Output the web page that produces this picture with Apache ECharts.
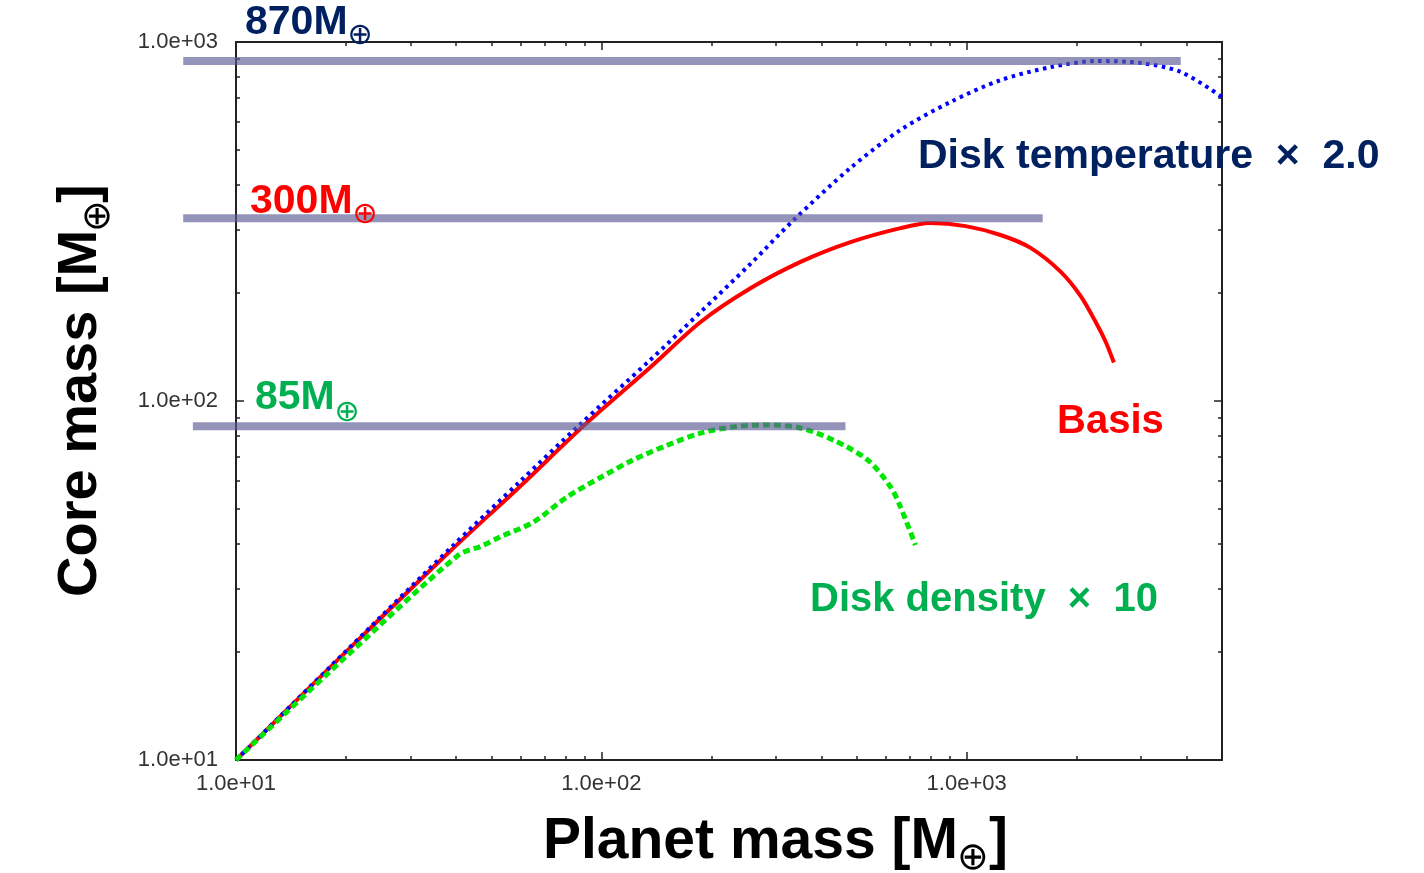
<!DOCTYPE html>
<html><head><meta charset="utf-8">
<script src="https://cdn.jsdelivr.net/npm/echarts@6/dist/echarts.min.js"></script>
<style>html,body{margin:0;padding:0;background:#fff}#c{width:1424px;height:873px}</style>
</head><body><div id="c"></div>
<script>
// ---------- data ----------
const xMajorTicks = [10, 100, 1000];
const xTickLabels = ['1.0e+01', '1.0e+02', '1.0e+03'];
const xMinorTicks = [20,30,40,50,60,70,80,90,200,300,400,500,600,700,800,900,2000,3000,4000,5000];
const yMajorTicks = [10, 100, 1000];
const yTickLabels = ['1.0e+01', '1.0e+02', '1.0e+03'];
const yMinorTicks = [20,30,40,50,60,70,80,90,200,300,400,500,600,700,800,900];

const basisMass = [10, 20, 38.6, 60, 89.3, 136, 187, 256, 351, 481, 659, 796, 993, 1238, 1496, 1810, 2052, 2255, 2403, 2529];
const basisCore = [10, 20, 38.2, 57.9, 85.2, 124, 166, 206, 244, 277, 303, 313, 307, 290, 267, 229, 196, 166, 146, 128];

const tempMass = [10, 20, 38.6, 60, 86.5, 136, 187, 256, 336, 481, 659, 904, 1238, 1698, 2255, 2999, 3855, 5000];
const tempCore = [10, 20.1, 38.9, 59.8, 85.2, 130, 177, 241, 319, 446, 569, 681, 783, 851, 885, 874, 825, 703];

const densMass = [10, 20, 40.6, 47.2, 52.8, 65.2, 80.7, 100, 122, 152, 187, 230, 285, 351, 432, 536, 620, 659, 724];
const densCore = [10, 19.4, 37.2, 39.5, 41.8, 46.0, 54.1, 61.4, 68.5, 75.4, 81.4, 84.7, 85.8, 84.1, 77.8, 68.5, 57.5, 50.7, 39.7];

const levelValue = [885, 323, 85];
const levelStart = [7.17, 7.17, 7.62];
const levelEnd = [3855, 1615, 466];
const levelLabel = ['870M', '300M', '85M'];

// ---------- layout ----------
const FONT = "'Liberation Sans', Arial, Helvetica, sans-serif";
const SYM = "'DejaVu Sans', sans-serif";
const X_MIN = 10, X_MAX = 5000, Y_MIN = 10, Y_MAX = 1000;
const G = {left: 236, top: 42, width: 986, height: 718};
const OVERHANG = 66;
const decadePx = G.width / Math.log10(X_MAX / X_MIN);
const X_MIN_BARS = Math.pow(10, Math.log10(X_MIN) - OVERHANG / decadePx);

const zip = (a, b) => a.map((v, i) => [v, b[i]]);
function labelFor(ticks, labels) {
  return v => { const i = ticks.findIndex(t => Math.abs(t - v) / t < 1e-6); return i >= 0 ? labels[i] : ''; };
}
const AX = '#222';
function xAx(pos, major, showLabel) {
  return {
    type: 'log', gridIndex: 0, position: pos, min: X_MIN, max: X_MAX, logBase: 10,
    axisLine: {show: major, lineStyle: {color: AX, width: 2}},
    axisTick: {show: true, inside: true, length: major ? 8 : 4, customValues: major ? xMajorTicks : xMinorTicks, lineStyle: {color: AX, width: 1.5}},
    axisLabel: showLabel ? {show: true, customValues: xMajorTicks, formatter: labelFor(xMajorTicks, xTickLabels), margin: 13, fontSize: 22, color: '#333', fontFamily: FONT} : {show: false},
    splitLine: {show: false}, minorTick: {show: false}
  };
}
function yAx(pos, major, showLabel) {
  return {
    type: 'log', gridIndex: 0, position: pos, min: Y_MIN, max: Y_MAX, logBase: 10,
    axisLine: {show: major, lineStyle: {color: AX, width: 2}},
    axisTick: {show: true, inside: true, length: major ? 8 : 4, customValues: major ? yMajorTicks : yMinorTicks, lineStyle: {color: AX, width: 1.5}},
    axisLabel: showLabel ? {show: true, customValues: yMajorTicks, formatter: labelFor(yMajorTicks, yTickLabels), margin: 18, fontSize: 22, color: '#333', fontFamily: FONT} : {show: false},
    splitLine: {show: false}, minorTick: {show: false}
  };
}

const navy = '#002060', red = '#ff0000', green = '#00b050';
function t(x, y, text, size, color, extra) {
  return Object.assign({type: 'text', x: x, y: y, z: 100,
    style: {text: text, fill: color, font: 'bold ' + size + 'px ' + FONT, align: 'left', verticalAlign: 'middle'}}, extra || {});
}
function o(x, y, size, color, extra) {
  return Object.assign({type: 'text', x: x, y: y, z: 100,
    style: {text: '\u2295', fill: color, font: size + 'px ' + SYM, align: 'center', verticalAlign: 'middle'}}, extra || {});
}
const levelColors = [navy, red, green];
const levelTextPos = [[245, 23], [250, 202], [255, 398]];
const levelSymPos = [[360, 36], [365, 215], [347, 413]];

const graphics = [];
levelLabel.forEach((s, i) => {
  graphics.push(t(levelTextPos[i][0], levelTextPos[i][1], s, 41, levelColors[i]));
  graphics.push(o(levelSymPos[i][0], levelSymPos[i][1], 30, levelColors[i]));
});
graphics.push(t(918, 157, 'Disk temperature  \u00d7  2.0', 41, navy));
graphics.push(t(1057, 422, 'Basis', 40, red));
graphics.push(t(810, 600, 'Disk density  \u00d7  10', 40, green));
graphics.push(t(543, 842, 'Planet mass [M', 57, '#000'));
graphics.push(o(973, 859, 38, '#000'));
graphics.push(t(989, 842, ']', 57, '#000'));
const rot = {rotation: Math.PI / 2};
graphics.push(t(81, 597, 'Core mass [M', 56, '#000', rot));
graphics.push(o(99, 216, 38, '#000', rot));
graphics.push(t(81, 203, ']', 56, '#000', rot));

const barColor = 'rgba(90,90,150,0.65)';
const levelSeries = levelValue.map((v, i) => ({
  type: 'line', xAxisIndex: 4, yAxisIndex: 4, symbol: 'none', silent: true, z: 10,
  data: [[levelStart[i], v], [levelEnd[i], v]],
  lineStyle: {color: barColor, width: 8, cap: 'butt'}
}));

const option = {
  animation: false,
  backgroundColor: '#fff',
  grid: [
    {left: G.left, top: G.top, width: G.width, height: G.height, containLabel: false},
    {left: G.left - OVERHANG, top: G.top, width: G.width + OVERHANG, height: G.height, containLabel: false}
  ],
  xAxis: [
    xAx('bottom', true, true), xAx('bottom', false, false), xAx('top', true, false), xAx('top', false, false),
    {type: 'log', gridIndex: 1, min: X_MIN_BARS, max: X_MAX, show: false}
  ],
  yAxis: [
    yAx('left', true, true), yAx('left', false, false), yAx('right', true, false), yAx('right', false, false),
    {type: 'log', gridIndex: 1, min: Y_MIN, max: Y_MAX, show: false}
  ],
  series: [
    {name: 'Basis', type: 'line', xAxisIndex: 0, yAxisIndex: 0, symbol: 'none', smooth: 0.3, z: 3,
      data: zip(basisMass, basisCore), lineStyle: {color: red, width: 4}},
    {name: 'Disk temperature x 2.0', type: 'line', xAxisIndex: 0, yAxisIndex: 0, symbol: 'none', smooth: 0.3, z: 4,
      data: zip(tempMass, tempCore), lineStyle: {color: '#0000ff', width: 4, type: [3.5, 4.5], cap: 'butt'}},
    {name: 'Disk density x 10', type: 'line', xAxisIndex: 0, yAxisIndex: 0, symbol: 'none', smooth: 0.3, z: 5,
      data: zip(densMass, densCore), lineStyle: {color: '#00e600', width: 5, type: [7, 4], cap: 'butt'}}
  ].concat(levelSeries),
  graphic: graphics
};
const chart = echarts.init(document.getElementById('c'), null, {renderer: 'canvas'});
chart.setOption(option);
</script></body></html>
